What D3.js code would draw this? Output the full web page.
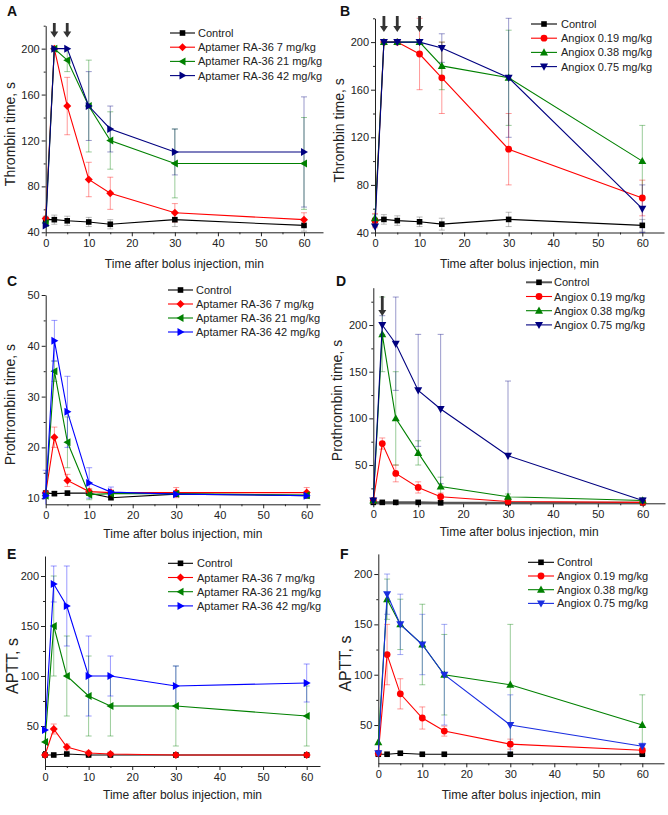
<!DOCTYPE html>
<html><head><meta charset="utf-8">
<script src="https://cdn.jsdelivr.net/npm/d3@7"></script>
<style>
body{margin:0;background:#fff;}
svg{display:block;font-family:Arial,"Liberation Sans",sans-serif;}
</style>
</head><body>
<svg id="chart" width="668" height="815"></svg>
<script>
// ---------------- DATA ----------------
const times = [0, 2, 5, 10, 15, 30, 60];
const xTickValues = [0, 10, 20, 30, 40, 50, 60];
const aptamerNames = ["Control", "Aptamer RA-36 7 mg/kg", "Aptamer RA-36 21 mg/kg", "Aptamer RA-36 42 mg/kg"];
const angioxNames = ["Control", "Angiox 0.19 mg/kg", "Angiox 0.38 mg/kg", "Angiox 0.75 mg/kg"];
const thrombinTicks = [40, 80, 120, 160, 200];
const prothrombinAptTicks = [10, 20, 30, 40, 50];
const fiftyTicks = [50, 100, 150, 200];

// A: thrombin time, aptamer
const thrombinAptamerMeans = [
  [51, 51, 50, 49, 47, 51, 46],
  [52, 200, 150, 86, 74, 57, 51],
  [48, 200, 190, 150, 120, 100, 100],
  [46, 200, 200, 150, 130, 110, 110]
];
const thrombinAptamerErrors = [
  [3, 4, 4, 4, 4, 6, 5],
  [0, 0, 25, 15, 14, 8, 6],
  [0, 0, 10, 40, 25, 30, 40],
  [0, 0, 0, 30, 20, 20, 48]
];
// B: thrombin time, Angiox
const thrombinAngioxMeans = [
  [50, 51, 50, 49, 47, 51, 46],
  [50, 200, 200, 190, 170, 110, 69],
  [52, 200, 200, 200, 180, 170, 100],
  [45, 200, 200, 200, 195, 170, 60]
];
const thrombinAngioxErrors = [
  [5, 4, 4, 4, 5, 6, 5],
  [6, 0, 0, 30, 30, 30, 15],
  [0, 0, 0, 0, 20, 40, 30],
  [0, 0, 0, 0, 12, 50, 20]
];
// C: prothrombin time, aptamer
const prothrombinAptamerMeans = [
  [11, 10.9, 11, 11, 10.1, 10.8, 10.5],
  [11, 22, 13.5, 11.3, 11.1, 11.1, 11.1],
  [10.5, 35, 21, 10.7, 10.9, 10.9, 10.6],
  [10.5, 41, 27, 13, 11.2, 10.8, 10.5]
];
const prothrombinAptamerErrors = [
  [0.4, 0.4, 0.4, 0.4, 0.4, 0.4, 0.4],
  [0, 2, 1.2, 0.6, 0.5, 1, 1],
  [0, 2, 5, 1, 0.5, 0.5, 0.5],
  [5, 4, 7, 3, 1, 0.5, 0.5]
];
// D: prothrombin time, Angiox
const prothrombinAngioxMeans = [
  [10, 10, 10, 10, 9.5, 9.5, 9.5],
  [12, 73, 41, 26, 16, 11, 10],
  [12, 190, 100, 63, 27, 16, 12],
  [12, 200, 180, 130, 110, 60, 12]
];
const prothrombinAngioxErrors = [
  [0.5, 0.5, 0.5, 0.5, 0.5, 0.5, 0.5],
  [0, 6, 9, 6, 4, 2, 2],
  [0, 40, 50, 13, 10, 3, 2],
  [0, 10, 50, 60, 80, 80, 3]
];
// E: APTT, aptamer
const apttAptamerMeans = [
  [21, 21, 22, 21, 21, 21, 21],
  [21, 47, 29, 23, 22, 21, 21],
  [34, 150, 100, 80, 70, 70, 60],
  [46, 192, 170, 100, 100, 90, 93]
];
const apttAptamerErrors = [
  [1, 1, 1, 1, 1, 1, 1],
  [0, 5, 3, 2, 2, 1, 1],
  [0, 50, 40, 40, 30, 40, 30],
  [0, 18, 40, 40, 20, 20, 19]
];
// F: APTT, Angiox
const apttAngioxMeans = [
  [21, 21, 22, 21, 21, 21, 21],
  [22, 120, 81, 57, 44, 31, 25],
  [33, 175, 150, 130, 100, 90, 50],
  [22, 180, 150, 130, 100, 50, 29]
];
const apttAngioxErrors = [
  [1, 1, 1, 1, 1, 1, 1],
  [0, 30, 15, 11, 5, 5, 2],
  [0, 20, 25, 40, 40, 60, 30],
  [0, 20, 30, 30, 50, 30, 3]
];

// ---------------- LAYOUT ----------------
const aptMarkers = ["square", "diamond", "triLeft", "triRight"];
const angMarkers = ["square", "circle", "triUp", "triDown"];
const panels = [
  {label:"A", lx:7, ly:16, means:thrombinAptamerMeans, errs:thrombinAptamerErrors, names:aptamerNames, markers:aptMarkers,
   colors:["#000000","#ff0000","#008000","#000080"], controlWidth:1.1,
   x0:45.7, x60:304, xEnd:323, yDomain:[40,220], yRange:[232.3,25.7], yTicks:thrombinTicks, yMinor:20,
   yTitle:"Thrombin time, s", yTitleSize:14, yTitleX:15, xTitleY:267.5,
   legend:{x0:170, x1:195, tx:198, y0:33, dy:14.2}, arrows:[2,5], arrowY:[23,37.5]},
  {label:"B", lx:340, ly:16, means:thrombinAngioxMeans, errs:thrombinAngioxErrors, names:angioxNames, markers:angMarkers,
   colors:["#000000","#ff0000","#008000","#000080"], controlWidth:1.1,
   x0:375, x60:642.3, xEnd:664, yDomain:[40,220], yRange:[232.5,18.3], yTicks:thrombinTicks, yMinor:20,
   yTitle:"Thrombin time, s", yTitleSize:14, yTitleX:344, xTitleY:267.5,
   legend:{x0:531, x1:557, tx:561, y0:24, dy:14.2}, arrows:[2,5,10], arrowY:[16,32]},
  {label:"C", lx:7, ly:286, means:prothrombinAptamerMeans, errs:prothrombinAptamerErrors, names:aptamerNames, markers:aptMarkers,
   colors:["#000000","#ff0000","#008000","#0000ff"], controlWidth:1.1,
   x0:45.7, x60:306.7, xEnd:320, yDomain:[8.8,50], yRange:[504.3,295], yTicks:prothrombinAptTicks, yMinor:5,
   yTitle:"Prothrombin time, s", yTitleSize:14, yTitleX:15, xTitleY:537.5,
   legend:{x0:168, x1:193, tx:196, y0:290, dy:14}, arrows:[], arrowY:[0,0]},
  {label:"D", lx:336, ly:286, means:prothrombinAngioxMeans, errs:prothrombinAngioxErrors, names:angioxNames, markers:angMarkers,
   colors:["#555555","#ff0000","#008000","#000080"], controlWidth:2,
   x0:373.3, x60:642.7, xEnd:665, yDomain:[9,240], yRange:[503.3,287.7], yTicks:fiftyTicks, yMinor:25,
   yTitle:"Prothrombin time, s", yTitleSize:14, yTitleX:342, xTitleY:536,
   legend:{x0:526, x1:552, tx:554, y0:282.3, dy:14.2}, arrows:[2], arrowY:[296,316]},
  {label:"E", lx:7, ly:559, means:apttAptamerMeans, errs:apttAptamerErrors, names:aptamerNames, markers:aptMarkers,
   colors:["#000000","#ff0000","#008000","#0000ff"], controlWidth:1.1,
   x0:45, x60:306.7, xEnd:320, yDomain:[10,220], yRange:[766,556], yTicks:fiftyTicks, yMinor:25,
   yTitle:"APTT, s", yTitleSize:16, yTitleX:18, xTitleY:799,
   legend:{x0:168, x1:193, tx:197, y0:563.3, dy:14.2}, arrows:[], arrowY:[0,0]},
  {label:"F", lx:340, ly:559, means:apttAngioxMeans, errs:apttAngioxErrors, names:angioxNames, markers:angMarkers,
   colors:["#000000","#ff0000","#008000","#1a2ee0"], controlWidth:1.1,
   x0:378.3, x60:642.3, xEnd:664, yDomain:[12,220], yRange:[763.3,553.9], yTicks:fiftyTicks, yMinor:25,
   yTitle:"APTT, s", yTitleSize:16, yTitleX:351, xTitleY:799,
   legend:{x0:528, x1:554, tx:557, y0:562.3, dy:13.7}, arrows:[], arrowY:[0,0]}
];

const markerPaths = {
  square:  "M-2.8,-2.8H2.8V2.8H-2.8Z",
  diamond: "M0,-4L4,0L0,4L-4,0Z",
  triLeft: "M-4,0L3,-4L3,4Z",
  triRight:"M4,0L-3,-4L-3,4Z",
  triUp:   "M0,-4.2L4,3L-4,3Z",
  triDown: "M0,4.2L4,-3L-4,-3Z"
};
function drawMarker(g, type, cx, cy, color) {
  if (type === "circle") {
    g.append("circle").attr("cx", cx).attr("cy", cy).attr("r", 3.4).attr("fill", color);
  } else {
    g.append("path").attr("d", markerPaths[type]).attr("transform", `translate(${cx},${cy})`).attr("fill", color);
  }
}

const svg = d3.select("#chart");

panels.forEach(p => {
  const g = svg.append("g");
  const xMax = 60 * (p.xEnd - p.x0) / (p.x60 - p.x0);
  const x = d3.scaleLinear().domain([0, xMax]).range([p.x0, p.xEnd]);
  const y = d3.scaleLinear().domain(p.yDomain).range(p.yRange);
  const yc = y.copy().clamp(true);
  const xAxisY = p.yRange[0];

  const xMinor = [5, 15, 25, 35, 45, 55, 65].filter(v => v <= xMax + 0.01);
  const yMinor = d3.range(Math.ceil(p.yDomain[0] / p.yMinor) * p.yMinor, p.yDomain[1] + 0.01, p.yMinor)
    .filter(v => !p.yTicks.includes(v));

  g.append("g").attr("transform", `translate(0,${xAxisY})`)
    .call(d3.axisBottom(x).tickValues(xTickValues).tickSize(4).tickPadding(3).tickSizeOuter(0));
  g.append("g").attr("transform", `translate(0,${xAxisY})`)
    .call(d3.axisBottom(x).tickValues(xMinor).tickSize(2).tickFormat("").tickSizeOuter(0))
    .call(s => s.select(".domain").remove());
  g.append("g").attr("transform", `translate(${p.x0},0)`)
    .call(d3.axisLeft(y).tickValues(p.yTicks).tickSize(4).tickPadding(2).tickSizeOuter(0));
  g.append("g").attr("transform", `translate(${p.x0},0)`)
    .call(d3.axisLeft(y).tickValues(yMinor).tickSize(2).tickFormat("").tickSizeOuter(0))
    .call(s => s.select(".domain").remove());
  g.selectAll(".tick text").attr("font-size", 11).attr("font-family", "Arial, 'Liberation Sans', sans-serif").attr("fill", "#222");
  g.selectAll(".domain, .tick line").attr("stroke", "#222");

  g.append("text").attr("x", (p.x0 + p.xEnd) / 2).attr("y", p.xTitleY).attr("text-anchor", "middle")
    .attr("font-size", 12).attr("fill", "#222").text("Time after bolus injection, min");
  const yMid = (p.yRange[0] + p.yRange[1]) / 2 + 5;
  g.append("text").attr("transform", `translate(${p.yTitleX},${yMid}) rotate(-90)`).attr("text-anchor", "middle")
    .attr("font-size", p.yTitleSize).attr("fill", "#222").text(p.yTitle);
  g.append("text").attr("x", p.lx).attr("y", p.ly).attr("font-size", 14).attr("font-weight", "bold")
    .attr("fill", "#111").text(p.label);

  // error bars
  p.means.forEach((ser, si) => {
    const col = si === 0 ? "#555" : p.colors[si];
    ser.forEach((v, i) => {
      const e = p.errs[si][i];
      if (!e) return;
      const cx = x(times[i]);
      const yt = yc(v + e), yb = yc(v - e);
      const eb = g.append("g").attr("stroke", col).attr("stroke-opacity", 0.4).attr("stroke-width", 1);
      eb.append("line").attr("x1", cx).attr("x2", cx).attr("y1", yt).attr("y2", yb);
      if (v + e <= p.yDomain[1]) eb.append("line").attr("x1", cx - 3).attr("x2", cx + 3).attr("y1", yt).attr("y2", yt);
      if (v - e >= p.yDomain[0]) eb.append("line").attr("x1", cx - 3).attr("x2", cx + 3).attr("y1", yb).attr("y2", yb);
    });
  });

  // lines and markers
  const line = d3.line().x((d, i) => x(times[i])).y(d => y(d));
  p.means.forEach((ser, si) => {
    const col = p.colors[si];
    const w = si === 0 ? p.controlWidth : 1.1;
    g.append("path").datum(ser).attr("d", line).attr("fill", "none").attr("stroke", col).attr("stroke-width", w);
    ser.forEach((v, i) => drawMarker(g, p.markers[si], x(times[i]), y(v), si === 0 ? "#000" : col));
  });

  // legend
  p.names.forEach((name, si) => {
    const ly = p.legend.y0 + si * p.legend.dy;
    const col = p.colors[si];
    const w = si === 0 ? p.controlWidth : 1.1;
    g.append("line").attr("x1", p.legend.x0).attr("x2", p.legend.x1).attr("y1", ly).attr("y2", ly)
      .attr("stroke", col).attr("stroke-width", w);
    drawMarker(g, p.markers[si], (p.legend.x0 + p.legend.x1) / 2, ly, si === 0 ? "#000" : col);
    g.append("text").attr("x", p.legend.tx).attr("y", ly + 4).attr("font-size", 11).attr("fill", "#222").text(name);
  });

  // arrows
  p.arrows.forEach(t => {
    const ax = x(t), y0 = p.arrowY[0], y1 = p.arrowY[1];
    const hl = 6;
    g.append("path")
      .attr("d", `M${ax - 1.4},${y0}H${ax + 1.4}V${y1 - hl}H${ax + 4}L${ax},${y1}L${ax - 4},${y1 - hl}H${ax - 1.4}Z`)
      .attr("fill", "#333");
  });
});
</script>
</body></html>
